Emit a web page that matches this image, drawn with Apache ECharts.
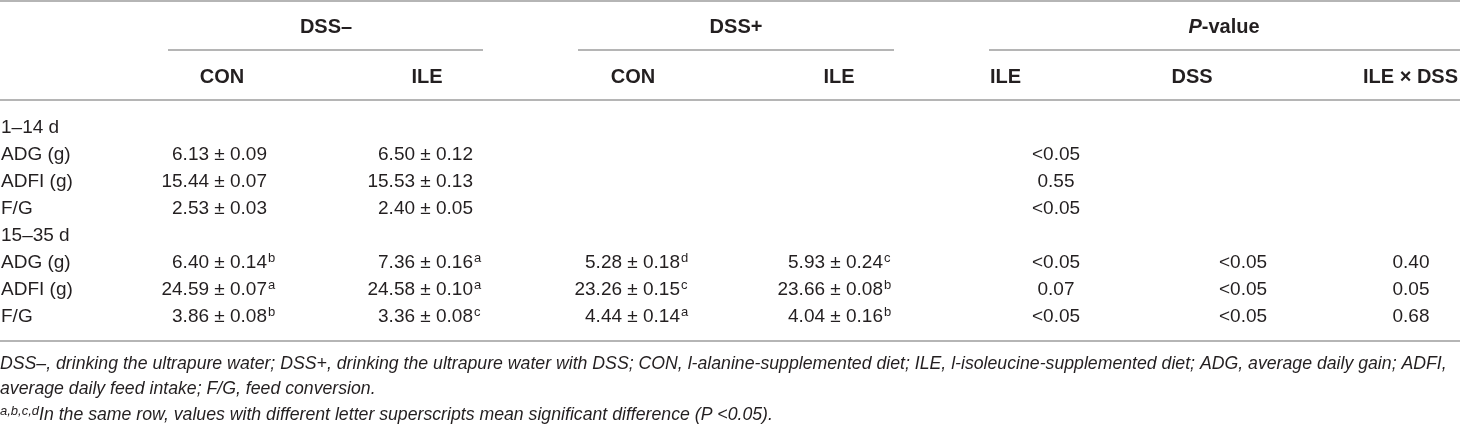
<!DOCTYPE html>
<html><head><meta charset="utf-8">
<script src="https://cdn.jsdelivr.net/npm/echarts@6/dist/echarts.min.js"></script>
<style>html,body{margin:0;padding:0;background:#fff}#c{width:1460px;height:425px}</style>
</head><body><div id="c"></div>
<script>
// ---------------- data ----------------
const groupHeaders = ['DSS\u2013', 'DSS+', 'P-value'];
const subHeaders = ['CON', 'ILE', 'CON', 'ILE', 'ILE', 'DSS', 'ILE \u00d7 DSS'];
const periods = ['1\u201314 d', '15\u201335 d'];
const measures = ['ADG (g)', 'ADFI (g)', 'F/G'];

// 1–14 d (ADG, ADFI, F/G)
const p1DssMinusConMean = [6.13, 15.44, 2.53];
const p1DssMinusConSem  = [0.09, 0.07, 0.03];
const p1DssMinusIleMean = [6.50, 15.53, 2.40];
const p1DssMinusIleSem  = [0.12, 0.13, 0.05];
const p1PIle = ['<0.05', '0.55', '<0.05'];

// 15–35 d (ADG, ADFI, F/G)
const p2DssMinusConMean = [6.40, 24.59, 3.86];
const p2DssMinusConSem  = [0.14, 0.07, 0.08];
const p2DssMinusConSup  = ['b', 'a', 'b'];
const p2DssMinusIleMean = [7.36, 24.58, 3.36];
const p2DssMinusIleSem  = [0.16, 0.10, 0.08];
const p2DssMinusIleSup  = ['a', 'a', 'c'];
const p2DssPlusConMean  = [5.28, 23.26, 4.44];
const p2DssPlusConSem   = [0.18, 0.15, 0.14];
const p2DssPlusConSup   = ['d', 'c', 'a'];
const p2DssPlusIleMean  = [5.93, 23.66, 4.04];
const p2DssPlusIleSem   = [0.24, 0.08, 0.16];
const p2DssPlusIleSup   = ['c', 'b', 'b'];
const p2PIle   = ['<0.05', '0.07', '<0.05'];
const p2PDss   = ['<0.05', '<0.05', '<0.05'];
const p2PInter = ['0.40', '0.05', '0.68'];

const footnote1 = 'DSS\u2013, drinking the ultrapure water; DSS+, drinking the ultrapure water with DSS; CON, l-alanine-supplemented diet; ILE, l-isoleucine-supplemented diet; ADG, average daily gain; ADFI,';
const footnote2 = 'average daily feed intake; F/G, feed conversion.';
const footnote3Sup = 'a,b,c,d';
const footnote3 = 'In the same row, values with different letter superscripts mean significant difference (P <0.05).';

// ---------------- layout / style ----------------
const LAYOUT = {
  width: 1460, height: 425,
  topRuleY: 1, groupY: 27, groupRuleY: 50, subY: 77, headRuleY: 100,
  bodyY0: 128, rowH: 27, bottomRuleY: 341, footY0: 364, footH: 25.5,
  groupCenters: [326, 736, 1224],
  groupRules: [[168, 483], [578, 894], [989, 1460]],
  sub: [[222, 'center'], [427, 'center'], [633, 'center'], [839, 'center'], [990, 'left'], [1192, 'center'], [1458, 'right']],
  labelX: 1,
  valueRight: [267, 473, 680, 883],
  pCenters: [1056, 1243, 1411]
};
const FONT = 'Liberation Sans';
const TXT = '#231f20';
const RULE = '#9c9c9c';
const S = {
  head: { fontFamily: FONT, fontSize: 20, fontWeight: 'bold' },
  body: { fontFamily: FONT, fontSize: 19, fontWeight: 'normal' },
  sup:  { fontFamily: FONT, fontSize: 13, fontWeight: 'normal' },
  foot: { fontFamily: FONT, fontSize: 17.7, fontStyle: 'italic' }
};

const fmt = (m, s) => m.toFixed(2) + ' \u00b1 ' + s.toFixed(2);

// ---------------- build cells ----------------
const cells = [];
function add(x, y, text, align, style, extra) {
  cells.push(Object.assign({ x, y, text, align, style }, extra || {}));
}
// header
groupHeaders.forEach((h, i) => {
  if (h === 'P-value') {
    add(LAYOUT.groupCenters[i], LAYOUT.groupY, '{pi|P}{b|-value}', 'center', S.head, {
      rich: {
        pi: Object.assign({}, S.head, { fontStyle: 'italic', fill: TXT }),
        b: Object.assign({}, S.head, { fill: TXT })
      }
    });
  } else {
    add(LAYOUT.groupCenters[i], LAYOUT.groupY, h, 'center', S.head);
  }
});
subHeaders.forEach((h, i) => add(LAYOUT.sub[i][0], LAYOUT.subY, h, LAYOUT.sub[i][1], S.head));

const rowY = r => LAYOUT.bodyY0 + r * LAYOUT.rowH;
// period 1
add(LAYOUT.labelX, rowY(0), periods[0], 'left', S.body);
measures.forEach((m, k) => {
  const y = rowY(1 + k);
  add(LAYOUT.labelX, y, m, 'left', S.body);
  add(LAYOUT.valueRight[0], y, fmt(p1DssMinusConMean[k], p1DssMinusConSem[k]), 'right', S.body);
  add(LAYOUT.valueRight[1], y, fmt(p1DssMinusIleMean[k], p1DssMinusIleSem[k]), 'right', S.body);
  add(LAYOUT.pCenters[0], y, p1PIle[k], 'center', S.body);
});
// period 2
add(LAYOUT.labelX, rowY(4), periods[1], 'left', S.body);
const p2Groups = [
  [p2DssMinusConMean, p2DssMinusConSem, p2DssMinusConSup],
  [p2DssMinusIleMean, p2DssMinusIleSem, p2DssMinusIleSup],
  [p2DssPlusConMean, p2DssPlusConSem, p2DssPlusConSup],
  [p2DssPlusIleMean, p2DssPlusIleSem, p2DssPlusIleSup]
];
const p2P = [p2PIle, p2PDss, p2PInter];
measures.forEach((m, k) => {
  const y = rowY(5 + k);
  add(LAYOUT.labelX, y, m, 'left', S.body);
  p2Groups.forEach((g, j) => add(LAYOUT.valueRight[j], y, fmt(g[0][k], g[1][k]), 'right', S.body, { sup: g[2][k] }));
  p2P.forEach((arr, j) => add(LAYOUT.pCenters[j], y, arr[k], 'center', S.body));
});
// footnotes
add(0, LAYOUT.footY0, footnote1, 'left', S.foot);
add(0, LAYOUT.footY0 + LAYOUT.footH, footnote2, 'left', S.foot);
add(0, LAYOUT.footY0 + 2 * LAYOUT.footH, '{s|' + footnote3Sup + '}{i|' + footnote3 + '}', 'left', S.foot, {
  rich: {
    s: Object.assign({}, S.sup, { fontStyle: 'italic', fill: TXT, verticalAlign: 'top', lineHeight: 13 }),
    i: Object.assign({}, S.foot, { fill: TXT, lineHeight: 20 })
  }
});

// rules
const rules = [
  [0, LAYOUT.width, LAYOUT.topRuleY],
  [LAYOUT.groupRules[0][0], LAYOUT.groupRules[0][1], LAYOUT.groupRuleY],
  [LAYOUT.groupRules[1][0], LAYOUT.groupRules[1][1], LAYOUT.groupRuleY],
  [LAYOUT.groupRules[2][0], LAYOUT.groupRules[2][1], LAYOUT.groupRuleY],
  [0, LAYOUT.width, LAYOUT.headRuleY],
  [0, LAYOUT.width, LAYOUT.bottomRuleY]
];

// ---------------- chart ----------------
const chart = echarts.init(document.getElementById('c'), null, { renderer: 'canvas' });
chart.setOption({
  backgroundColor: '#ffffff',
  animation: false,
  grid: { left: 0, right: 0, top: 0, bottom: 0 },
  xAxis: { type: 'value', min: 0, max: LAYOUT.width, show: false },
  yAxis: { type: 'value', min: 0, max: LAYOUT.height, inverse: true, show: false },
  series: [
    {
      type: 'custom',
      silent: true,
      data: rules,
      renderItem: (params, api) => {
        const a = api.coord([api.value(0), api.value(2)]);
        const b = api.coord([api.value(1), api.value(2)]);
        return {
          type: 'line',
          shape: { x1: a[0], y1: a[1], x2: b[0], y2: b[1] },
          style: { stroke: RULE, lineWidth: 1.5 }
        };
      }
    },
    {
      type: 'custom',
      silent: true,
      data: cells.map((c, i) => [c.x, c.y, i]),
      renderItem: (params, api) => {
        const c = cells[api.value(2)];
        const p = api.coord([api.value(0), api.value(1)]);
        const style = Object.assign({}, c.style, {
          text: c.text, fill: TXT, align: c.align, verticalAlign: 'middle'
        });
        if (c.rich) style.rich = c.rich;
        const children = [{ type: 'text', x: p[0], y: p[1], style }];
        if (c.sup) {
          children.push({
            type: 'text', x: p[0] + 1, y: p[1] - 5,
            style: Object.assign({}, S.sup, { text: c.sup, fill: TXT, align: 'left', verticalAlign: 'middle' })
          });
        }
        return { type: 'group', children };
      }
    }
  ]
});
</script>
</body></html>
